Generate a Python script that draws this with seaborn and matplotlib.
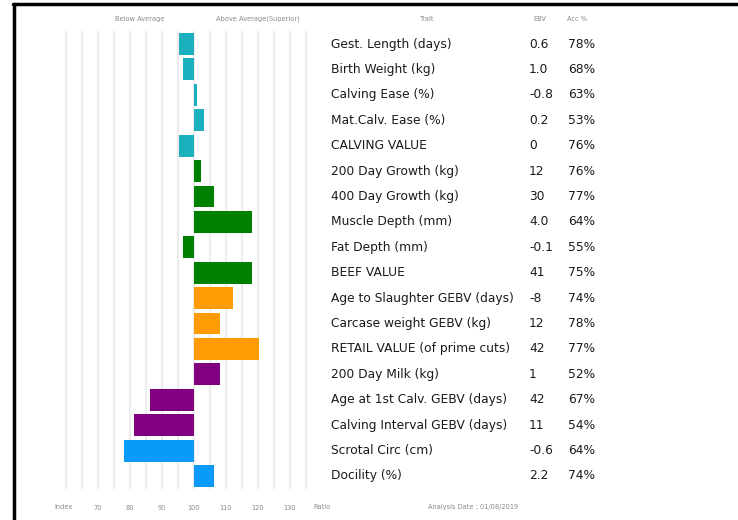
import matplotlib
matplotlib.use("Agg")
import matplotlib.pyplot as plt
from matplotlib.lines import Line2D
from matplotlib.transforms import blended_transform_factory
import numpy as np
import pandas as pd
import seaborn as sns

# Trait rows, top to bottom
traits = [
    "Gest. Length (days)", "Birth Weight (kg)", "Calving Ease (%)", "Mat.Calv. Ease (%)",
    "CALVING VALUE", "200 Day Growth (kg)", "400 Day Growth (kg)", "Muscle Depth (mm)",
    "Fat Depth (mm)", "BEEF VALUE", "Age to Slaughter GEBV (days)", "Carcase weight GEBV (kg)",
    "RETAIL VALUE (of prime cuts)", "200 Day Milk (kg)", "Age at 1st Calv. GEBV (days)",
    "Calving Interval GEBV (days)", "Scrotal Circ (cm)", "Docility (%)",
]
ebv = ["0.6", "1.0", "-0.8", "0.2", "0", "12", "30", "4.0", "-0.1", "41",
       "-8", "12", "42", "1", "42", "11", "-0.6", "2.2"]
acc = ["78%", "68%", "63%", "53%", "76%", "76%", "77%", "64%", "55%", "75%",
       "74%", "78%", "77%", "52%", "67%", "54%", "64%", "74%"]
# Index ratio for each trait (100 = breed average)
index_ratio = [95.3, 96.6, 100.9, 103.1, 95.3, 102.2, 106.3, 118.2, 96.6, 118.1,
               112.2, 108.1, 120.2, 108.1, 86.2, 81.2, 78.2, 106.3]
group = ["calving"] * 5 + ["growth"] * 5 + ["carcase"] * 3 + ["maternal"] * 3 + ["other"] * 2

palette = {"calving": "#1CB0BE", "growth": "#008000", "carcase": "#FF9C05",
           "maternal": "#800080", "other": "#0A9BFA"}

tick_values = [70, 80, 90, 100, 110, 120, 130]

df = pd.DataFrame({"trait": traits, "deviation": np.array(index_ratio) - 100, "group": group})

W, H = 738, 520
fig = plt.figure(figsize=(W / 100, H / 100), dpi=100)
sns.set_style("white")
plt.rcParams["font.family"] = ["DejaVu Sans"]

# bar panel in pixel geometry
left_px, right_px, top_px, bot_px = 55, 320, 31.3, 488.7
ax = fig.add_axes([left_px / W, 1 - bot_px / H, (right_px - left_px) / W, (bot_px - top_px) / H])

sns.barplot(data=df, y="trait", x="deviation", hue="group", palette=palette,
            saturation=1, dodge=False, width=0.86, linewidth=0, legend=False,
            ax=ax, zorder=3)

scale = 3.2  # px per index unit
ax.set_xlim((left_px - 194) / scale, (right_px - 194) / scale)
ax.set_ylim(len(traits) - 0.5, -0.5)

grid_vals = np.arange(-40, 40, 5)
for g in grid_vals:
    ax.axvline(g, color="#EDEDED", lw=1.6, zorder=0)

ax.set_xticks([v - 100 for v in tick_values])
ax.set_xticklabels([str(v) for v in tick_values], fontsize=4.8, color="#8a8a8a")
ax.tick_params(axis="x", length=0, pad=12)
ax.set_yticks([])
ax.set_xlabel("")
ax.set_ylabel("")
for s in ax.spines.values():
    s.set_visible(False)

fig_x = blended_transform_factory(fig.transFigure, ax.transData)
fig_px = lambda x: x / W

# table text
body = dict(fontsize=8.8, color="#1a1a1a", va="center", ha="left", transform=fig_x)
for i, (t, e, a) in enumerate(zip(traits, ebv, acc)):
    ax.text(fig_px(331), i, t, **body)
    ax.text(fig_px(529), i, e, **body)
    ax.text(fig_px(568), i, a, **body)

hdr = dict(fontsize=4.8, color="#8a8a8a", va="center")
fig.text(fig_px(140), 1 - 19 / H, "Below Average", ha="center", **hdr)
fig.text(fig_px(258), 1 - 19 / H, "Above Average(Superior)", ha="center", **hdr)
fig.text(fig_px(427), 1 - 19 / H, "Trait", ha="center", **hdr)
fig.text(fig_px(540), 1 - 19 / H, "EBV", ha="center", **hdr)
fig.text(fig_px(577), 1 - 19 / H, "Acc %", ha="center", **hdr)

fig.text(fig_px(63), 1 - 507 / H, "Index", ha="center", **hdr)
fig.text(fig_px(322), 1 - 507 / H, "Ratio", ha="center", **hdr)
fig.text(fig_px(428), 1 - 507 / H, "Analysis Date : 01/08/2019", ha="left", **hdr)

# frame
fig.add_artist(Line2D([13 / W, 1], [1 - 4 / H, 1 - 4 / H], transform=fig.transFigure,
                      color="black", lw=2.5))
fig.add_artist(Line2D([14 / W, 14 / W], [0, 1 - 4 / H], transform=fig.transFigure,
                      color="black", lw=2.5))

fig.savefig("out.png", dpi=100, facecolor="white")
